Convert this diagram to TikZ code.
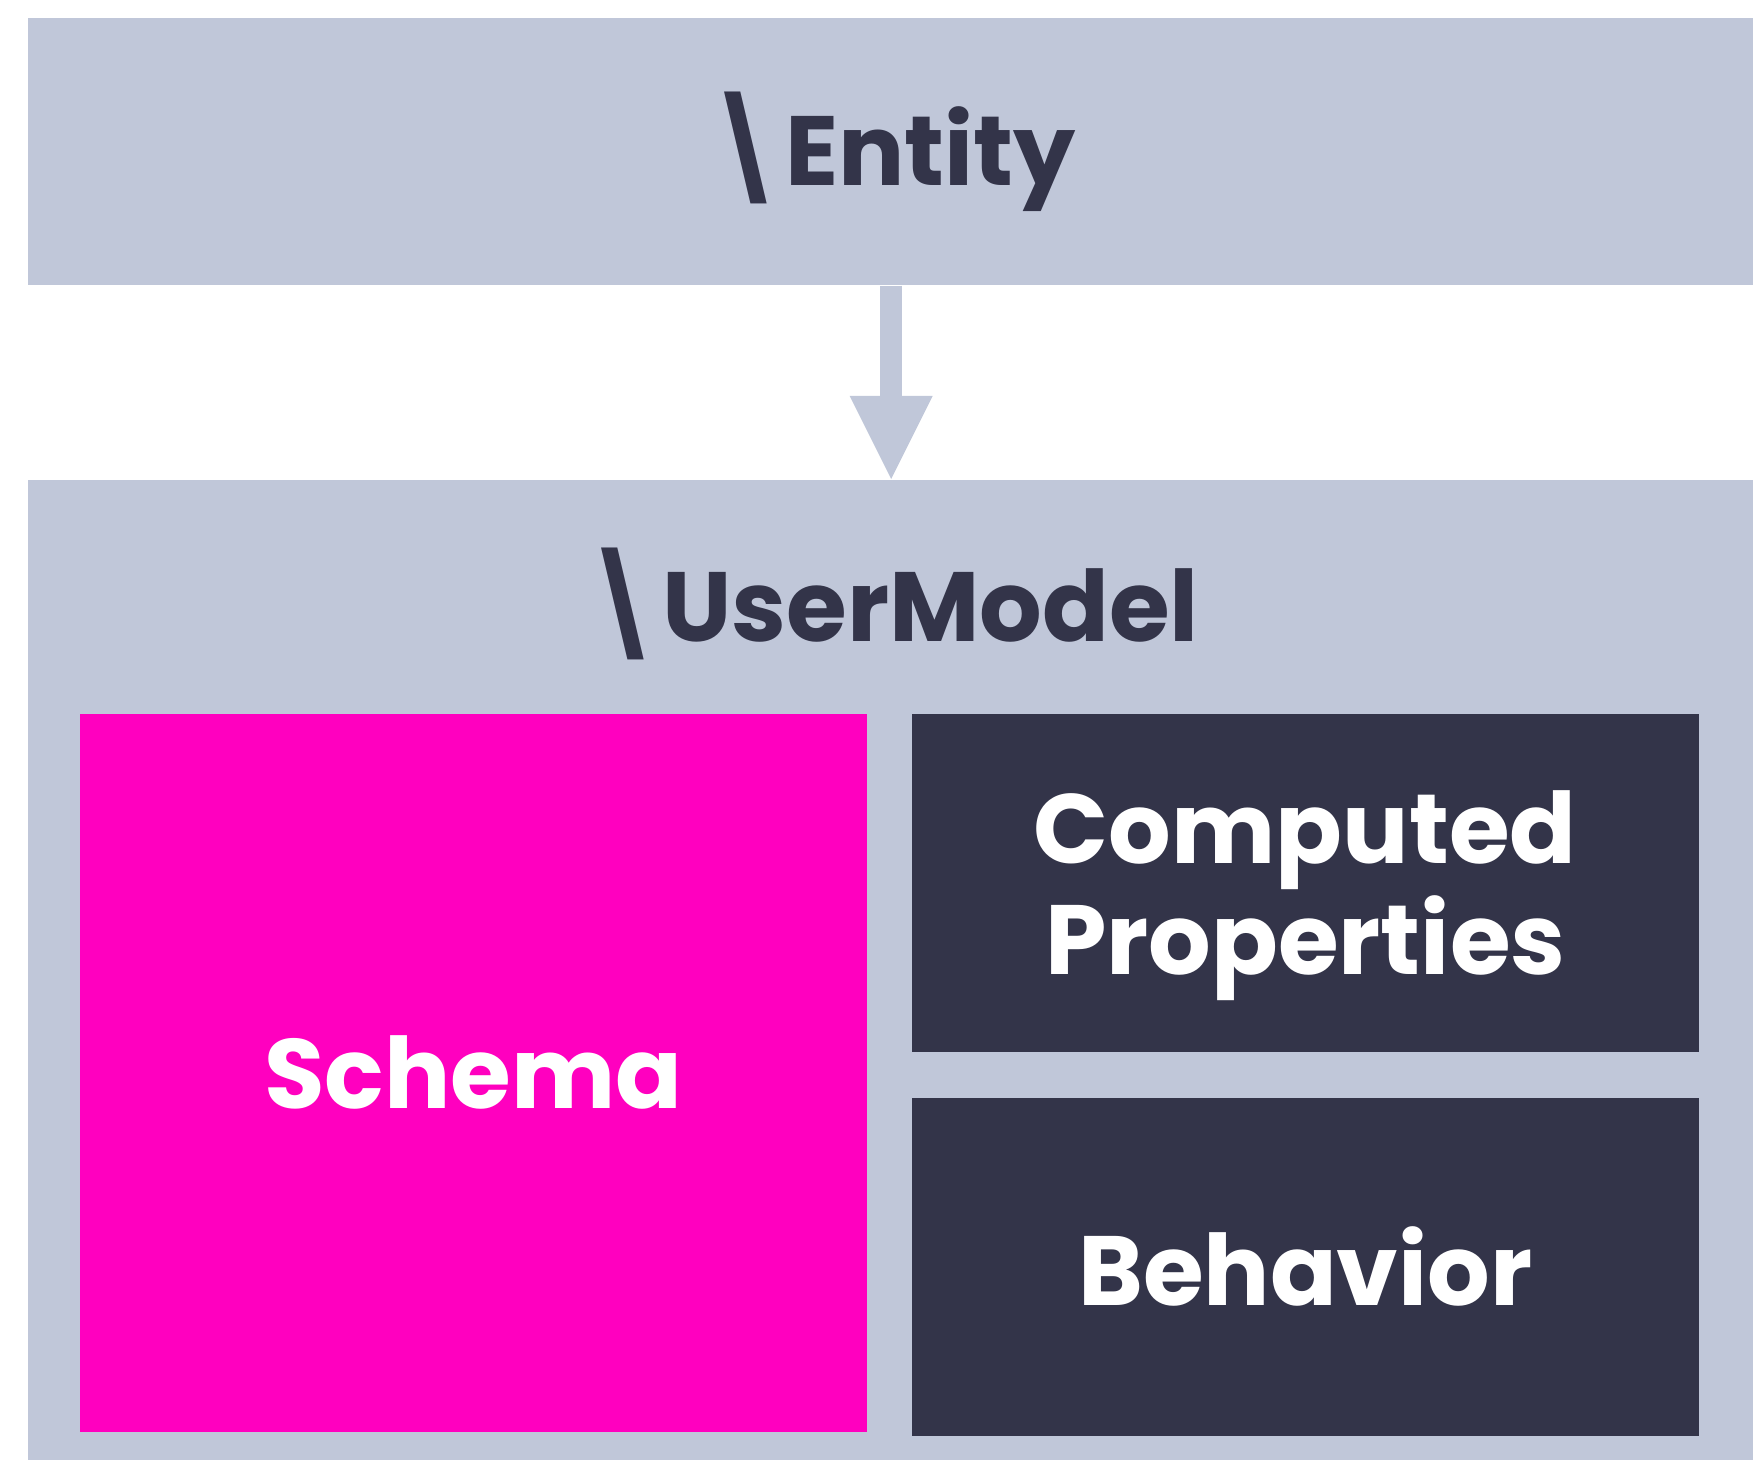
\documentclass[tikz,border=0pt]{standalone}
\usepackage{fontspec}
\setmainfont{Poppins}
\usetikzlibrary{positioning,arrows.meta}
\definecolor{slate}{HTML}{C0C7D9}
\definecolor{ink}{HTML}{333449}
\definecolor{hotpink}{HTML}{FF00BF}
\tikzset{
  panel/.style={fill=slate, inner sep=0pt, anchor=north west},
  part/.style={fill=ink, text=white, inner sep=0pt, minimum width=7.87cm, align=center},
  caption/.style={font=\fontsize{28}{31.5}\selectfont\bfseries},
}
\begin{document}
\begin{tikzpicture}[x=0.01cm, y=-0.01cm]
			\useasboundingbox (0,0) rectangle (1753,1460);
			\clip (0,0) rectangle (1753,1460);
			
			\node[panel, minimum width=17.26cm, minimum height=2.67cm, text=ink, caption] (entity) at (27,17) {\textbackslash Entity};
			\node[panel, minimum width=17.26cm, minimum height=10cm] (model) at (27,479) {};
			\node[caption, text=ink, anchor=base] (modeltitle) at (891,641) {\textbackslash UserModel};
			
			\node[part, fill=hotpink, minimum height=7.18cm, anchor=north west, caption] (schema) at (79,713) {Schema};
			\node[part, minimum height=3.38cm, text depth=0pt, below right=0cm and 0.43cm of schema.north east, caption] (computed) {Computed\\Properties};
			\node[part, minimum height=3.37cm, below=0.45cm of computed, caption] (behavior) {Behavior};
			
			\draw[slate, line width=0.216cm, -{Triangle[width=0.83cm, length=0.83cm, line width=0pt]}] (entity.south) -- (model.north);
			
		\end{tikzpicture}
\end{document}
